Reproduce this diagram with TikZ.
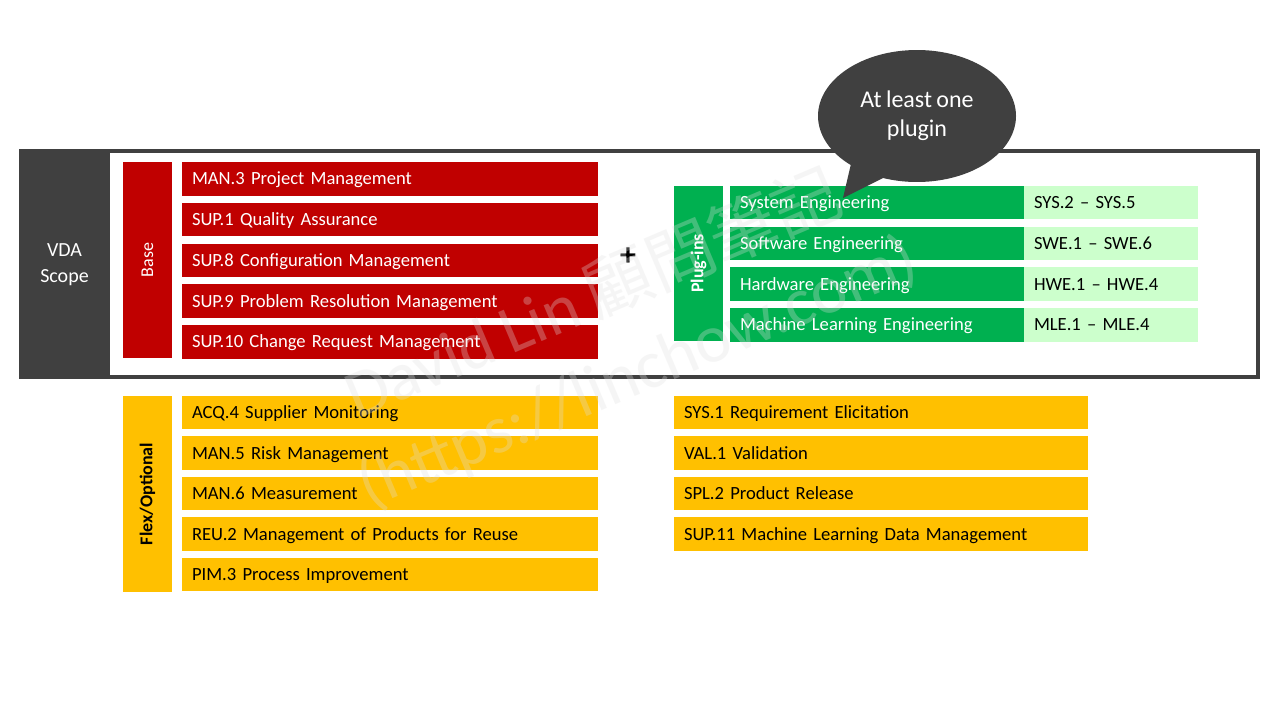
\documentclass[tikz,border=0pt]{standalone}
\usepackage{fontspec}
\setmainfont{Carlito}[WordSpace=0.8]
\newfontfamily\cjkfont{Noto Sans CJK TC}
\usepackage{tikz}
\usetikzlibrary{shapes,shapes.callouts,positioning}
\definecolor{scopegray}{HTML}{404040}
\definecolor{basered}{HTML}{C00000}
\definecolor{plugingreen}{HTML}{00B050}
\definecolor{rangegreen}{HTML}{CCFFCC}
\definecolor{flexyellow}{HTML}{FFC000}
\tikzstyle{rowbox}=[anchor=west, inner xsep=10pt, inner ysep=0pt, outer sep=0pt, minimum height=33.5pt, text height=12pt, text depth=0pt, align=left, font=\fontsize{18.6}{23}\selectfont]
\tikzstyle{basebox}=[rowbox, fill=basered, text=white, text width=396pt]
\tikzstyle{plugbox}=[rowbox, fill=plugingreen, text=white, text width=274pt]
\tikzstyle{rangebox}=[rowbox, fill=rangegreen, text=black, text width=154pt]
\tikzstyle{flexbox}=[rowbox, fill=flexyellow, text=black, text width=396pt]
\tikzstyle{extrabox}=[rowbox, fill=flexyellow, text=black, text width=394pt]
\tikzstyle{sidebar}=[rotate=90, inner sep=0pt, outer sep=0pt, minimum height=49pt, font=\fontsize{18}{18}\selectfont]
\tikzstyle{watermark}=[rotate=23, text=black!12, text opacity=0.3, font=\fontsize{68}{68}\selectfont]

\begin{document}
\begin{tikzpicture}[x=1pt,y=-1pt]
	\useasboundingbox (0,0) rectangle (1280,720);
	\fill[white] (0,0) rectangle (1280,720);
	\fill[scopegray] (19,149) rectangle (110,379);
	\draw[scopegray, line width=4pt] (21,151) rectangle (1258,377);
	\node[text=white, align=center, font=\fontsize{20}{26}\selectfont] (vda) at (64.5,265) {VDA\\Scope};
	\node[sidebar, fill=basered, text=white, minimum width=196pt] (base) at (147.5,260) {Base};
	\foreach \name [count=\i] in {MAN.3 Project Management, SUP.1 Quality Assurance, SUP.8 Configuration Management, SUP.9 Problem Resolution Management, SUP.10 Change Request Management}
		\node[basebox] (base\i) at (182,{178.75+40.75*(\i-1)}) {\name};
	\node[font=\bfseries\fontsize{32}{32}\selectfont] (plus) at (628,257) {+};
	\node[sidebar, fill=plugingreen, text=white, font=\bfseries\fontsize{18}{18}\selectfont, minimum width=155pt] (plugins) at (698.5,263.5) {Plug-ins};
	\foreach \name/\range [count=\i] in {System Engineering/SYS.2 -- SYS.5, Software Engineering/SWE.1 -- SWE.6, Hardware Engineering/HWE.1 -- HWE.4, Machine Learning Engineering/MLE.1 -- MLE.4}{
		\node[plugbox] (plug\i) at (730,{202.5+40.75*(\i-1)}) {\name};
		\node[rangebox, right=0pt of plug\i] (range\i) {\range};
	}
	\node[ellipse callout, fill=scopegray, text=white, inner sep=0pt, minimum width=198pt, minimum height=132pt, callout absolute pointer={(843,198)}, callout pointer arc=22, align=center, font=\fontsize{24}{29}\selectfont] (bubble) at (917,116) {At least one\\plugin};
	\node[sidebar, fill=flexyellow, text=black, font=\bfseries\fontsize{18}{18}\selectfont, minimum width=196pt] (flex) at (147.5,494) {Flex/Optional};
	\foreach \name [count=\i] in {ACQ.4 Supplier Monitoring, MAN.5 Risk Management, MAN.6 Measurement, REU.2 Management of Products for Reuse, PIM.3 Process Improvement}
		\node[flexbox] (flex\i) at (182,{412.5+40.5*(\i-1)}) {\name};
	\foreach \name [count=\i] in {SYS.1 Requirement Elicitation, VAL.1 Validation, SPL.2 Product Release, SUP.11 Machine Learning Data Management}
		\node[extrabox] (extra\i) at (674,{412.5+40.5*(\i-1)}) {\name};
	\node[watermark] (wmname) at (592,292) {David Lin {\cjkfont 顧問筆記}};
	\node[watermark] (wmurl) at (638,374) {(https://linchow.com)};
\end{tikzpicture}
\end{document}
